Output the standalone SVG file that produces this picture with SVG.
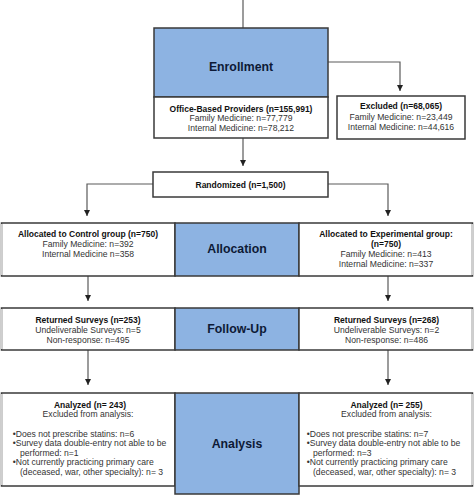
<svg xmlns="http://www.w3.org/2000/svg" width="474" height="496" viewBox="0 0 474 496">
<defs>
<marker id="ah" markerUnits="userSpaceOnUse" markerWidth="7" markerHeight="7" refX="6" refY="3" orient="auto">
<path d="M0,0 L6,3 L0,6 z" fill="#222"/>
</marker>
<style>
.box{fill:#fff;stroke:#3a3a3a;stroke-width:1.5}
.blue{fill:#8db3e2;stroke:#3a3a3a;stroke-width:1.5}
.edge{stroke:#cfcfcf;stroke-width:1.5}
.conn{fill:none;stroke:#5a5a5a;stroke-width:1.2}
text{font-family:"Liberation Sans",Arial,sans-serif;text-anchor:middle}
.b{font-weight:bold;font-size:8.5px;fill:#111}
.r{font-size:8.6px;fill:#333}
.big{font-weight:bold;font-size:12.3px;fill:#0d1a36}
.l{text-anchor:start}
</style>
</defs>
<rect width="474" height="496" fill="#fff"/>
<g id="connectors">
<path class="conn" d="M243,0 V28"/>
<path class="conn" d="M243,138 V166" marker-end="url(#ah)"/>
<path class="conn" d="M328,62 H400 V91" marker-end="url(#ah)"/>
<path class="conn" d="M153,184 H87 V216" marker-end="url(#ah)"/>
<path class="conn" d="M328,184 H388 V216" marker-end="url(#ah)"/>
<path class="conn" d="M88,276 V301" marker-end="url(#ah)"/>
<path class="conn" d="M388,276 V301" marker-end="url(#ah)"/>
<path class="conn" d="M88,350 V385" marker-end="url(#ah)"/>
<path class="conn" d="M388,350 V385" marker-end="url(#ah)"/>
</g>
<g id="enrollment">
<rect class="blue" x="154" y="28" width="174" height="69"/>
<text class="big" x="241" y="71">Enrollment</text>
</g>
<g id="providers">
<rect class="box" x="154" y="97" width="174" height="41"/>
<text class="b" x="241" y="111.5">Office-Based Providers (n=155,991)</text>
<text class="r" x="241" y="121">Family Medicine: n=77,779</text>
<text class="r" x="241" y="130.5">Internal Medicine: n=78,212</text>
</g>
<g id="excluded">
<rect class="box" x="337" y="96" width="128" height="43"/>
<text class="b" x="401" y="109">Excluded (n=68,065)</text>
<text class="r" x="401" y="119.5">Family Medicine: n=23,449</text>
<text class="r" x="401" y="130">Internal Medicine: n=44,616</text>
</g>
<g id="randomized">
<rect class="box" x="153" y="172" width="175" height="25"/>
<text class="b" x="240.5" y="187.5">Randomized (n=1,500)</text>
</g>
<g id="control">
<rect class="box" x="1.5" y="223" width="173.5" height="53"/>
<line class="edge" x1="1.5" y1="224" x2="1.5" y2="275"/>
<text class="b" x="88" y="237">Allocated to Control group (n=750)</text>
<text class="r" x="88" y="246.7">Family Medicine: n=392</text>
<text class="r" x="88" y="256.7">Internal Medicine n=358</text>
</g>
<g id="allocation">
<rect class="blue" x="175" y="223" width="124" height="53"/>
<text class="big" x="237" y="253.3">Allocation</text>
</g>
<g id="experimental">
<rect class="box" x="299" y="223" width="173.5" height="53"/>
<line class="edge" x1="472.5" y1="224" x2="472.5" y2="275"/>
<text class="b" x="386" y="237">Allocated to Experimental group:</text>
<text class="b" x="386" y="247">(n=750)</text>
<text class="r" x="386" y="257.3">Family Medicine: n=413</text>
<text class="r" x="386" y="267">Internal Medicine: n=337</text>
</g>
<g id="returned-control">
<rect class="box" x="1.5" y="308" width="173.5" height="42"/>
<line class="edge" x1="1.5" y1="309" x2="1.5" y2="349"/>
<text class="b" x="88" y="322.7">Returned Surveys (n=253)</text>
<text class="r" x="88" y="333">Undeliverable Surveys: n=5</text>
<text class="r" x="88" y="342.7">Non-response: n=495</text>
</g>
<g id="follow-up">
<rect class="blue" x="175" y="308" width="124" height="42"/>
<text class="big" x="237" y="333.3">Follow-Up</text>
</g>
<g id="returned-experimental">
<rect class="box" x="299" y="308" width="173.5" height="42"/>
<line class="edge" x1="472.5" y1="309" x2="472.5" y2="349"/>
<text class="b" x="386.5" y="322.7">Returned Surveys (n=268)</text>
<text class="r" x="386.5" y="333">Undeliverable Surveys: n=2</text>
<text class="r" x="386.5" y="342.7">Non-response: n=486</text>
</g>
<g id="analyzed-control">
<rect class="box" x="1.5" y="393" width="173.5" height="93"/>
<line class="edge" x1="1.5" y1="394" x2="1.5" y2="485"/>
<text class="b" x="90" y="407.5">Analyzed (n= 243)</text>
<text class="r" x="88" y="417">Excluded from analysis:</text>
<text class="r l" x="12.7" y="436.5">•Does not prescribe statins: n=6</text>
<text class="r l" x="12.7" y="446">•Survey data double-entry not able to be</text>
<text class="r l" x="20" y="455.5">performed: n=1</text>
<text class="r l" x="12.7" y="465">•Not currently practicing primary care</text>
<text class="r l" x="20" y="474.5">(deceased, war, other specialty): n= 3</text>
</g>
<g id="analysis">
<rect class="blue" x="175" y="393" width="124" height="101"/>
<text class="big" x="237" y="448">Analysis</text>
</g>
<g id="analyzed-experimental">
<rect class="box" x="299" y="393" width="173.5" height="93"/>
<line class="edge" x1="472.5" y1="394" x2="472.5" y2="485"/>
<text class="b" x="386.5" y="407.5">Analyzed (n= 255)</text>
<text class="r" x="386.5" y="417">Excluded from analysis:</text>
<text class="r l" x="306.7" y="436.5">•Does not prescribe statins: n=7</text>
<text class="r l" x="306.7" y="446">•Survey data double-entry not able to be</text>
<text class="r l" x="313" y="455.5">performed: n=3</text>
<text class="r l" x="306.7" y="465">•Not currently practicing primary care</text>
<text class="r l" x="313" y="474.5">(deceased, war, other specialty): n= 3</text>
</g>
</svg>
